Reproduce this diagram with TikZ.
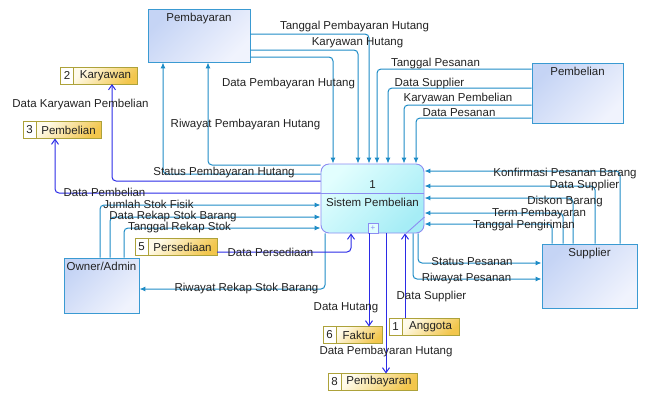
\documentclass[tikz,border=0pt]{standalone}
\usepackage{fontspec}
\setmainfont{Liberation Sans}
\usetikzlibrary{arrows.meta,positioning}

\definecolor{flowcol}{HTML}{1E8CC6}
\definecolor{dstcol}{HTML}{2B2BE6}
\definecolor{extedge}{HTML}{3A9AD2}
\definecolor{extlight}{HTML}{F0F3FD}
\definecolor{extdark}{HTML}{C5D4F5}
\definecolor{procedge}{HTML}{8C8CF2}
\definecolor{proclight}{HTML}{E2FEFE}
\definecolor{procdark}{HTML}{A6EDF6}
\definecolor{stedge}{HTML}{ADA23A}
\definecolor{stlight}{HTML}{FFFBEA}
\definecolor{stdark}{HTML}{F2C64C}
\definecolor{txt}{HTML}{222222}

\tikzset{
    ext/.style={draw=extedge,line width=0.9pt,top color=extdark,bottom color=extlight,shading angle=45,inner sep=0pt},
    elbl/.style={anchor=north,inner sep=0pt,yshift=-4.5pt},
    proc/.style={draw=procedge,line width=0.9pt,rounded corners=8pt,top color=proclight,bottom color=procdark,shading angle=45,inner sep=0pt},
    procplus/.style={draw=procedge,line width=0.7pt,fill=proclight,minimum size=10pt,inner sep=0pt,font=\fontsize{8}{8}\selectfont,text=procedge},
    stnum/.style={draw=stedge,line width=1pt,fill=white,minimum width=13pt,minimum height=17pt,inner sep=0pt,outer sep=0pt},
    stlab/.style={draw=stedge,line width=1pt,top color=stlight,bottom color=stdark,shading angle=45,minimum height=17pt,inner sep=0pt,outer sep=0pt},
    flow/.style={draw=flowcol,line width=1pt,rounded corners=4pt,-{Latex[length=6pt,width=5pt]}},
    dflow/.style={draw=dstcol,line width=1pt,rounded corners=4pt,-{Straight Barb[length=5pt,width=7pt]}},
    lbl/.style={inner sep=0pt}
}

\begin{document}
\begin{tikzpicture}[x=1pt,y=-1pt,every node/.style={font=\fontsize{11.5}{13}\selectfont,text=txt}]
                \useasboundingbox (0,0) rectangle (647,392);

                % entitas luar
                \node[ext,minimum width=102pt,minimum height=53pt,label={[elbl,name=pbytxt]north:Pembayaran}] (pby) at (199,35.5) {};
                \node[ext,minimum width=91pt,minimum height=60pt,label={[elbl,name=pbltxt]north:Pembelian}] (pbl) at (577.5,93) {};
                \node[ext,minimum width=75pt,minimum height=55pt,label={[elbl,name=ownertxt]north:Owner/Admin}] (owner) at (101.5,285.5) {};
                \node[ext,minimum width=95pt,minimum height=64pt,label={[elbl,name=suptxt]north:Supplier}] (sup) at (589.5,276) {};

                % proses
                \node[proc,minimum width=103pt,minimum height=69pt] (proc) at (372.5,198.5) {};
                \draw[procedge,line width=0.9pt] (proc.west |- 0,193) -- (proc.east |- 0,193);
                \draw[procedge,line width=0.9pt] (proc.east |- 0,217) -- (proc.south -| 406,0);
                \node (procid) at (372.5,185) {1};
                \node (procname) at (372.5,202) {Sistem Pembelian};
                \node[procplus] (plus) at (373,228) {+};

                % data store
                \node[stnum] (krynum) at (67,75.5) {2};
                \node[stlab,minimum width=64pt,right=0pt of krynum] (kry) {Karyawan};
                \node[stnum] (pblstnum) at (29.5,130) {3};
                \node[stlab,minimum width=65pt,right=0pt of pblstnum] (pblst) {Pembelian};
                \node[stnum] (prsnum) at (141.5,247) {5};
                \node[stlab,minimum width=69pt,right=0pt of prsnum] (prs) {Persediaan};
                \node[stnum] (fktnum) at (329.5,335) {6};
                \node[stlab,minimum width=46pt,right=0pt of fktnum] (fkt) {Faktur};
                \node[stnum] (agtnum) at (395.5,326.5) {1};
                \node[stlab,minimum width=57pt,right=0pt of agtnum] (agt) {Anggota};
                \node[stnum] (pbstnum) at (334.5,382) {8};
                \node[stlab,minimum width=76pt,right=0pt of pbstnum] (pbst) {Pembayaran};

                % aliran
                \draw[flow] (pby.east |- 0,34) -| (proc.north -| 369,0);
                \draw[flow] (pby.east |- 0,50) -| (proc.north -| 358,0);
                \draw[flow] (pby.east |- 0,57) -| (proc.north -| 333,0);
                \draw[flow] (proc.west |- 0,165) -| (pby.south -| 208,0);
                \draw[flow] (proc.west |- 0,174) -| (pby.south -| 163,0);

                \draw[flow] (pbl.west |- 0,69) -| (proc.north -| 377,0);
                \draw[flow] (pbl.west |- 0,88) -| (proc.north -| 388,0);
                \draw[flow] (pbl.west |- 0,105) -| (proc.north -| 404,0);
                \draw[flow] (pbl.west |- 0,118) -| (proc.north -| 416,0);

                \draw[flow] (sup.north -| 620,0) |- (proc.east |- 0,171);
                \draw[flow] (sup.north -| 595,0) |- (proc.east |- 0,186);
                \draw[flow] (sup.north -| 573,0) |- (proc.east |- 0,198);
                \draw[flow] (sup.north -| 563,0) |- (proc.east |- 0,213);
                \draw[flow] (sup.north -| 552,0) |- (proc.east |- 0,224);
                \draw[flow] (proc.south -| 418,0) |- (sup.west |- 0,263);
                \draw[flow] (proc.south -| 413,0) |- (sup.west |- 0,279);

                \draw[flow] (owner.north -| 100,0) |- (proc.west |- 0,205);
                \draw[flow] (owner.north -| 110,0) |- (proc.west |- 0,217);
                \draw[flow] (owner.north -| 124,0) |- (proc.west |- 0,228);
                \draw[flow] (proc.south -| 325,0) |- (owner.east |- 0,289);

                \draw[dflow] (proc.west |- 0,181) -| (kry.south -| 112,0);
                \draw[dflow] (proc.west |- 0,193) -| (pblst.south -| 55,0);
                \draw[dflow] (prs.east |- 0,252) -| (proc.south -| 351,0);
                \draw[dflow] (proc.south -| 369,0) -- (fkt.north -| 369,0);
                \draw[dflow] (proc.south -| 386,0) -- (pbst.north -| 386,0);
                \draw[dflow] (agt.north -| 405,0) -- (proc.south -| 405,0);

                % label aliran
                \node[lbl] (tglbyr) at (354.5,27) {Tanggal Pembayaran Hutang};
                \node[lbl] (karhut) at (357.5,43) {Karyawan Hutang};
                \node[lbl] (databyr) at (288.5,84) {Data Pembayaran Hutang};
                \node[lbl] (rwybyr) at (245.5,125) {Riwayat Pembayaran Hutang};
                \node[lbl] (stsbyr) at (224,173) {Status Pembayaran Hutang};
                \node[lbl] (datakar) at (80.5,105) {Data Karyawan Pembelian};
                \node[lbl] (datapbl) at (104.5,192) {Data Pembelian};
                \node[lbl] (jmlstok) at (148.5,204.5) {Jumlah Stok Fisik};
                \node[lbl] (rekap) at (173,216.5) {Data Rekap Stok Barang};
                \node[lbl] (tglrekap) at (179.5,228) {Tanggal Rekap Stok};
                \node[lbl] (dataprs) at (270.5,252) {Data Persediaan};
                \node[lbl] (rwyrekap) at (246.5,289) {Riwayat Rekap Stok Barang};
                \node[lbl] (datahut) at (346,308) {Data Hutang};
                \node[lbl] (databyr2) at (386,352) {Data Pembayaran Hutang};
                \node[lbl] (datasup2) at (431.5,297) {Data Supplier};
                \node[lbl] (stspsn) at (472,262) {Status Pesanan};
                \node[lbl] (rwypsn) at (466.5,279) {Riwayat Pesanan};
                \node[lbl] (konf) at (565,174) {Konfirmasi Pesanan Barang};
                \node[lbl] (datasup3) at (584.5,186) {Data Supplier};
                \node[lbl] (diskon) at (565,202) {Diskon Barang};
                \node[lbl] (term) at (539,214) {Term Pembayaran};
                \node[lbl] (tglkirim) at (524,226) {Tanggal Pengiriman};
                \node[lbl] (tglpsn) at (435.5,64) {Tanggal Pesanan};
                \node[lbl] (datasup1) at (429.5,84) {Data Supplier};
                \node[lbl] (karpbl) at (458,99) {Karyawan Pembelian};
                \node[lbl] (datapsn) at (459,113) {Data Pesanan};
            \end{tikzpicture}
\end{document}
